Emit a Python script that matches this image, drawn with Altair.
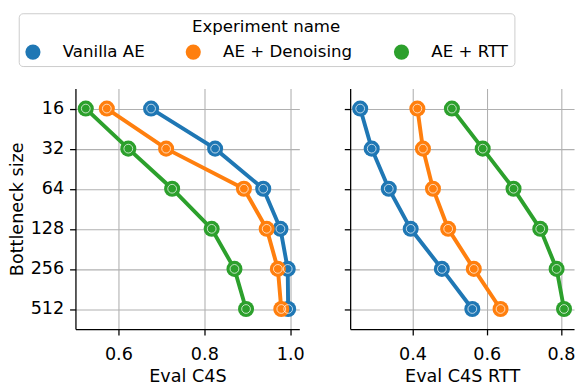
import altair as alt
import pandas as pd

bottleneck = ["16", "32", "64", "128", "256", "512"]
experiments = ["Vanilla AE", "AE + Denoising", "AE + RTT"]
colors = ["#1f77b4", "#ff7f0e", "#2ca02c"]

c4s_vanilla = [0.676, 0.825, 0.937, 0.977, 0.994, 0.995]
c4s_denoise = [0.573, 0.711, 0.892, 0.945, 0.971, 0.979]
c4s_rtt = [0.524, 0.623, 0.725, 0.817, 0.870, 0.897]

rtt_vanilla = [0.259, 0.290, 0.336, 0.395, 0.479, 0.561]
rtt_denoise = [0.413, 0.428, 0.455, 0.496, 0.565, 0.637]
rtt_rtt = [0.506, 0.589, 0.672, 0.744, 0.788, 0.808]

c4s = {"Vanilla AE": c4s_vanilla, "AE + Denoising": c4s_denoise, "AE + RTT": c4s_rtt}
rtt = {"Vanilla AE": rtt_vanilla, "AE + Denoising": rtt_denoise, "AE + RTT": rtt_rtt}

rows = []
for e in experiments:
    for i, b in enumerate(bottleneck):
        rows.append({"Experiment name": e, "Bottleneck size": b, "rank": i,
                     "Eval C4S": c4s[e][i], "Eval C4S RTT": rtt[e][i]})
df = pd.DataFrame(rows)

legend = alt.Legend(orient="none", legendX=-58, legendY=-77, direction="horizontal",
                    title="Experiment name", titleAnchor="middle")


def panel(field, domain, ticks, first):
    if first:
        yaxis = alt.Axis(title="Bottleneck size", grid=True)
    else:
        yaxis = alt.Axis(title=None, labels=False, grid=True)
    base = alt.Chart(df).encode(
        x=alt.X(f"{field}:Q", title=field,
                scale=alt.Scale(domain=domain, nice=False, zero=False),
                axis=alt.Axis(values=ticks, format=".1f")),
        y=alt.Y("Bottleneck size:N", sort=bottleneck,
                scale=alt.Scale(type="point", padding=0.5), axis=yaxis),
        color=alt.Color("Experiment name:N",
                        scale=alt.Scale(domain=experiments, range=colors),
                        legend=legend),
        order=alt.Order("rank:Q"),
    )
    line = base.mark_line(strokeWidth=4)
    dots = base.mark_point(filled=True, size=270, opacity=1, shape="circle")
    rings = base.mark_point(filled=False, size=80, strokeWidth=0.8, opacity=0.9,
                            shape="circle").encode(color=alt.value("white"))
    return alt.layer(line, dots, rings).properties(width=229, height=246)


left = panel("Eval C4S", [0.5, 1.021], [0.6, 0.8, 1.0], True)
right = panel("Eval C4S RTT", [0.232, 0.835], [0.4, 0.6, 0.8], False)

chart = alt.hconcat(left, right, spacing=39).properties(
    padding={"left": 0, "top": 0, "right": 0, "bottom": 0}
).configure(
    font="DejaVu Sans"
).configure_view(
    stroke=None
).configure_axis(
    labelFontSize=18, titleFontSize=18, titleFontWeight="normal",
    labelColor="black", titleColor="black",
    domainColor="black", domainWidth=1.3,
    tickColor="black", tickSize=6, tickWidth=1.3,
    gridColor="#b0b0b0", gridWidth=1.1,
).configure_axisX(
    labelPadding=11, titlePadding=5,
).configure_axisY(
    labelPadding=6, titlePadding=4,
).configure_legend(
    labelFontSize=17, titleFontSize=17, titleFontWeight="normal",
    labelColor="black", titleColor="black",
    symbolSize=240, symbolType="circle", symbolStrokeWidth=0, symbolOpacity=1,
    labelOffset=22, columnPadding=41, padding=6,
    strokeColor="#cccccc", fillColor="white", cornerRadius=4, titlePadding=8,
)

chart.save("out.html", embed_options={"renderer": "svg", "actions": False})
